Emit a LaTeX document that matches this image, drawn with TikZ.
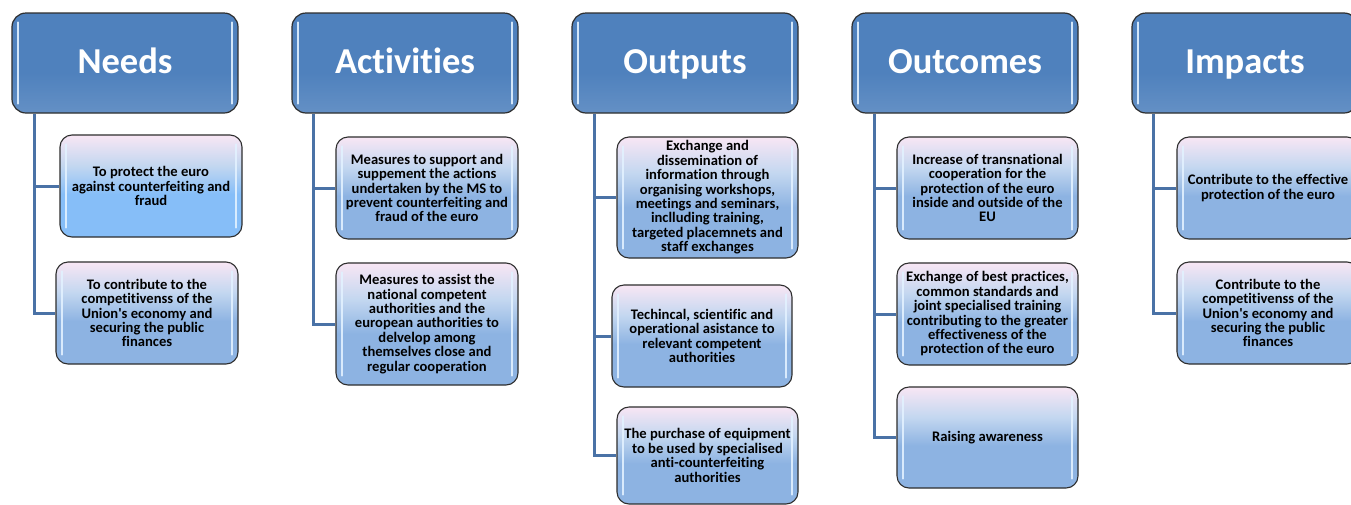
\documentclass[tikz,border=0pt]{standalone}
\usepackage{fontspec}
\setmainfont{Carlito}[Ligatures={NoCommon}]
\usetikzlibrary{calc}
\definecolor{hdrblue}{HTML}{4F81BD}
\definecolor{linkblue}{HTML}{4A72A6}
\definecolor{ctop}{HTML}{F8E6F4}
\definecolor{cmid}{HTML}{C3D7F0}
\definecolor{cbot}{HTML}{8DB3E2}
\definecolor{cbotb}{HTML}{86BEF8}
\definecolor{hilite}{HTML}{E2F1FF}
\definecolor{edge}{HTML}{2E2E2E}
\pgfdeclareverticalshading{childshade}{100bp}{color(0bp)=(cbot); color(25bp)=(cbot); color(46bp)=(cbot); color(60bp)=(cmid); color(75bp)=(ctop); color(100bp)=(ctop)}
\pgfdeclareverticalshading{childshadeb}{100bp}{color(0bp)=(cbotb); color(25bp)=(cbotb); color(46bp)=(cbotb); color(60bp)=(cmid); color(75bp)=(ctop); color(100bp)=(ctop)}
\pgfdeclareverticalshading{hdrshade}{100bp}{color(0bp)=(hdrblue!85!white); color(25bp)=(hdrblue!88!white); color(45bp)=(hdrblue); color(100bp)=(hdrblue)}
\newcommand{\apos}{\textquotesingle}
\begin{document}
\begin{tikzpicture}[x=1pt,y=-1pt,
  hdr/.style={draw=edge, line width=1.2pt, rounded corners=14pt, shading=hdrshade,
    minimum width=226pt, minimum height=100pt, inner sep=0pt,
    text height=26pt, text depth=6pt,
    font=\fontsize{36.5}{42}\selectfont\bfseries, text=white},
  child/.style={draw=edge, line width=1.1pt, rounded corners=12pt, shading=childshade,
    minimum width=182pt, minimum height=102pt, inner sep=0pt, align=center,
    font=\fontsize{14.6}{14.4}\selectfont\bfseries, text=black},
  link/.style={draw=linkblue, line width=3pt},
  hl/.style={draw=hilite, line width=2pt, line cap=round, opacity=0.9}
]
\useasboundingbox (0,0) rectangle (1351,504);
\clip (0,0) rectangle (1351,504);
\fill[white] (0,0) rectangle (1351,504);

% headers
\node[hdr] (H1) at (125,63) {Needs};
\node[hdr] (H2) at (405,63) {Activities};
\node[hdr] (H3) at (685,63) {Outputs};
\node[hdr] (H4) at (965,63) {Outcomes};
\node[hdr] (H5) at (1245,63) {Impacts};

% children
\node[child, shading=childshadeb] (N1) at (151,186) {To protect the euro\\against counterfeiting and\\fraud};
\node[child] (N2) at (147,313) {To contribute to the\\competitivenss of the\\Union\apos s economy and\\securing the public\\finances};

\node[child] (A1) at (427,188) {Measures to support and\\suppement the actions\\undertaken by the MS to\\prevent counterfeiting and\\fraud of the euro};
\node[child, minimum height=122pt] (A2) at (427,324) {Measures to assist the\\national competent\\authorities and the\\european authorities to\\delvelop among\\themselves close and\\regular cooperation};

\node[child, minimum width=181pt, minimum height=121pt] (O1) at (707.5,197.5) {Exchange and\\dissemination of\\information through\\organising workshops,\\meetings and seminars,\\inclluding training,\\targeted placemnets and\\staff exchanges};
\node[child, minimum width=180pt] (O2) at (702,336) {Techincal, scientific and\\operational asistance to\\relevant competent\\authorities};
\node[child, minimum width=181pt, minimum height=97pt] (O3) at (707.5,455.5) {The purchase of equipment\\to be used by specialised\\anti-counterfeiting\\authorities};

\node[child, minimum width=181pt] (C1) at (987.5,188) {Increase of transnational\\cooperation for the\\protection of the euro\\inside and outside of the\\EU};
\node[child, minimum width=181pt] (C2) at (987.5,314) {Exchange of best practices,\\common standards and\\joint specialised training\\contributing to the greater\\effectiveness of the\\protection of the euro};
\node[child, minimum width=181pt, minimum height=101pt] (C3) at (987.5,437.5) {Raising awareness};

\node[child] (I1) at (1268,188) {Contribute to the effective\\protection of the euro};
\node[child] (I2) at (1268,313) {Contribute to the\\competitivenss of the\\Union\apos s economy and\\securing the public\\finances};

% glossy highlight strips
\foreach \n in {H1,H2,H3,H4,H5,N1,N2,A1,A2,O1,O2,O3,C1,C2,C3,I1,I2}{
  \draw[hl] ($(\n.north west)+(7,10)$) -- ($(\n.south west)+(7,-10)$);
  \draw[hl] ($(\n.north east)+(-7,10)$) -- ($(\n.south east)+(-7,-10)$);
}

% connectors
\draw[link] ($(H1.south west)+(23,0.6)$) |- (N1.west);
\draw[link] ($(H1.south west)+(23,0.6)$) |- (N2.west);
\draw[link] ($(H2.south west)+(22,0.6)$) |- (A1.west);
\draw[link] ($(H2.south west)+(22,0.6)$) |- (A2.west);
\draw[link] ($(H3.south west)+(23,0.6)$) |- (O1.west);
\draw[link] ($(H3.south west)+(23,0.6)$) |- (O2.west);
\draw[link] ($(H3.south west)+(23,0.6)$) |- (O3.west);
\draw[link] ($(H4.south west)+(23,0.6)$) |- (C1.west);
\draw[link] ($(H4.south west)+(23,0.6)$) |- (C2.west);
\draw[link] ($(H4.south west)+(23,0.6)$) |- (C3.west);
\draw[link] ($(H5.south west)+(22,0.6)$) |- (I1.west);
\draw[link] ($(H5.south west)+(22,0.6)$) |- (I2.west);
\end{tikzpicture}
\end{document}
